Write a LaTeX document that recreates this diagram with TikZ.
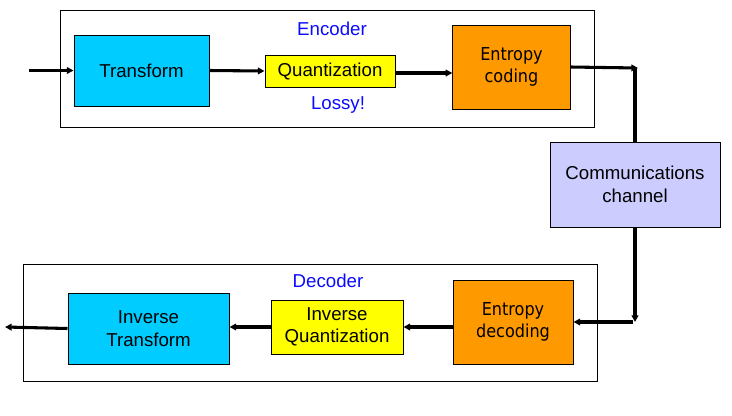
\documentclass[tikz,border=0pt]{standalone}
\usepackage{fontspec}
\setmainfont{Liberation Sans}
\newfontfamily\entfont{DejaVu Sans Condensed}
\usetikzlibrary{arrows.meta}
\definecolor{trcolor}{RGB}{0, 204, 255}
\definecolor{qucolor}{RGB}{255, 255, 0}
\definecolor{entcolor}{RGB}{255, 153, 0}
\definecolor{chcolor}{RGB}{204, 204, 255}
\definecolor{labelblue}{RGB}{10, 10, 255}

\begin{document}
\begin{tikzpicture}[x=0.75pt, y=-0.75pt, >={Triangle[length=5pt, width=5pt]},
  block/.style={draw, line width=0.75pt, align=center, inner sep=0pt,
    font=\fontsize{14}{17}\selectfont},
  entblock/.style={block, fill=entcolor, minimum width=88pt, minimum height=63pt,
    font=\entfont\fontsize{13.4}{16.5}\selectfont},
  frame/.style={draw, line width=0.75pt},
  flow/.style={->, line width=2.3pt},
  tag/.style={text=labelblue, font=\fontsize{14}{17}\selectfont}]

  \useasboundingbox (0,0) rectangle (732,415);

  % Frames
  \draw[frame] (60,10) rectangle (594,127);
  \draw[frame] (23,264) rectangle (597,381);
  \node[tag] (enc) at (332,29) {Encoder};
  \node[tag] (lossy) at (338,105) {Lossy!};
  \node[tag] (dec) at (328,281) {Decoder};

  % Encoder blocks
  \node[block, fill=trcolor, minimum width=101.25pt, minimum height=53.25pt]
    (tr) at (141.5,70.5) {Transform};
  \node[block, fill=qucolor, minimum width=97.5pt, minimum height=24pt]
    (qu) at (330,71) {Quantization};
  \node[entblock] (ent) at (511.5,67) {Entropy\\coding};

  % Channel
  \node[block, fill=chcolor, minimum width=127.5pt, minimum height=63.75pt]
    (ch) at (635,184.5) {Communications\\channel};

  % Decoder blocks
  \node[entblock, minimum width=90pt] (edec) at (513,322) {Entropy\\decoding};
  \node[block, fill=qucolor, minimum width=99pt, minimum height=40.5pt]
    (iqu) at (337,327) {Inverse\\Quantization};
  \node[block, fill=trcolor, minimum width=120.75pt, minimum height=53.25pt]
    (itr) at (148.5,328.5) {Inverse\\Transform};

  % Free ends and corners
  \coordinate (in) at (29,70.5);
  \coordinate (out) at (5,327);
  \coordinate (up) at (638,68);
  \coordinate (down) at (635,322);

  % Encoder flow
  \draw[flow] (in) -- (tr.west);
  \draw[flow] (tr.east) -- (qu.west);
  \draw[flow] ([yshift=-1.5pt]qu.east) -- ([yshift=-1.5pt]qu.east -| ent.west);
  \draw[flow] (ent.east) -- (up);

  % Through the channel
  \draw[line width=2.3pt] (up -| ch.north) -- (ch.north);
  \draw[flow] (ch.south) -- (down);
  \draw[flow] ([xshift=-1.5pt]down) -- (down -| edec.east);

  % Decoder flow
  \draw[flow] (iqu.east -| edec.west) -- (iqu.east);
  \draw[flow] (iqu.west) -- (iqu.west -| itr.east);
  \draw[flow] (itr.west) -- (out);

\end{tikzpicture}
\end{document}
